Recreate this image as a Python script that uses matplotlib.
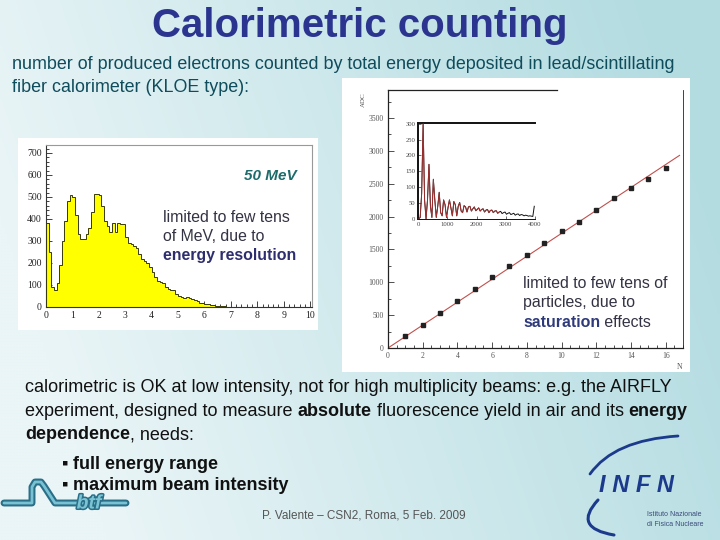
import numpy as np
import matplotlib
matplotlib.use('Agg')
import matplotlib.pyplot as plt
import matplotlib.patheffects as pe
from matplotlib.patches import Rectangle, PathPatch
from matplotlib.path import Path
from matplotlib.lines import Line2D
from matplotlib.ticker import MultipleLocator

# ---------------- data ----------------
hist_counts = [380, 250, 90, 75, 110, 190, 300, 390, 480, 510,
               500, 420, 330, 310, 310, 330, 360, 430, 515, 515,
               510, 460, 390, 370, 340, 380, 340, 380, 375, 375,
               320, 290, 285, 275, 270, 240, 220, 210, 200, 180,
               160, 135, 120, 115, 110, 90, 80, 75, 75, 60,
               50, 45, 40, 45, 40, 35, 30, 25, 20, 20,
               15, 12, 10, 8, 6, 5, 4, 3, 2, 2,
               2, 1, 1, 1, 1, 0, 1, 0, 0, 1,
               0, 0, 0, 0, 0, 0, 0, 0, 0, 0,
               0, 0, 0, 0, 0, 0, 0, 0, 0, 0]
hist_lo, hist_hi = 0.0, 10.0

n_particles = [1, 2, 3, 4, 5, 6, 7, 8, 9, 10, 11, 12, 13, 14, 15, 16]
adc_mean = [177, 355, 533, 720, 898, 1080, 1243, 1420, 1598, 1775,
            1917, 2105, 2283, 2435, 2572, 2740]

inset_counts = [0, 5, 80, 300, 60, 0, 60, 172, 40, 5,
                125, 60, 5, 40, 84, 20, 10, 60, 45, 5,
                35, 60, 35, 10, 55, 45, 10, 40, 52, 25,
                20, 42, 38, 22, 38, 40, 25, 32, 38, 26,
                30, 35, 25, 30, 32, 22, 28, 30, 20, 27,
                28, 20, 25, 26, 18, 22, 24, 17, 20, 22,
                15, 18, 20, 14, 16, 18, 12, 15, 16, 11,
                14, 13, 10, 12, 11, 9, 10, 9, 8, 40]
inset_lo, inset_hi = 0.0, 4000.0

hist_xticks = list(range(0, 11))
hist_yticks = [0, 100, 200, 300, 400, 500, 600, 700]
main_xticks = [0, 2, 4, 6, 8, 10, 12, 14, 16]
main_yticks = [0, 500, 1000, 1500, 2000, 2500, 3000, 3500]
inset_xticks = [0, 1000, 2000, 3000, 4000]
inset_yticks = [0, 50, 100, 150, 200, 250, 300]

# ---------------- figure ----------------
W, H = 720, 540
fig = plt.figure(figsize=(7.2, 5.4), dpi=100)
SANS_N = ['Liberation Sans', 'DejaVu Sans']
SANS = ['Liberation Sans', 'DejaVu Sans']
SERIF = ['Liberation Serif', 'DejaVu Serif']


def P(x, y):
    return (x / W, 1 - y / H)


# background gradient
bg = fig.add_axes([0, 0, 1, 1], zorder=-10)
bg.axis('off')
xx, yy = np.meshgrid(np.linspace(0, 1, 240), np.linspace(0, 1, 180))
t = np.clip(xx - 0.25 * yy + 0.1, 0, 1)
c0 = np.array([234, 245, 247]) / 255
c1 = np.array([179, 220, 225]) / 255
img = c0[None, None, :] * (1 - t[..., None]) + c1[None, None, :] * t[..., None]
bg.imshow(img, extent=[0, 1, 0, 1], aspect='auto', origin='upper')
bg.set_xlim(0, 1)
bg.set_ylim(0, 1)

# white panels
for (x0, y0, x1, y1) in [(18, 138, 318, 330), (342, 78, 690, 372)]:
    fig.add_artist(Rectangle(P(x0, y1), (x1 - x0) / W, (y1 - y0) / H,
                             transform=fig.transFigure, fc='white', ec='none', zorder=-5))

renderer = fig.canvas.get_renderer()


def twidth(s, size, weight, family, style='normal'):
    a = fig.text(0, 0, 'x' + s + 'x', fontsize=size, fontweight=weight, family=family, fontstyle=style)
    b = fig.text(0, 0, 'xx', fontsize=size, fontweight=weight, family=family, fontstyle=style)
    w = a.get_window_extent(renderer).width - b.get_window_extent(renderer).width
    a.remove()
    b.remove()
    return w


def rich(x, y, parts, size=None, target=None, family=SANS_N, zorder=5):
    if target is not None:
        tot = sum(twidth(s, 10, w, family) for s, w, c in parts)
        size = 10 * target / tot
    cx = x
    for s, w, c in parts:
        fig.text(cx / W, 1 - y / H, s, fontsize=size, fontweight=w, color=c,
                 family=family, va='baseline', ha='left', zorder=zorder)
        cx += twidth(s, size, w, family)
    return size


# ---- title & texts ----
TITLE_C = '#2b3590'
SUB_C = '#0f4c5c'
fig.text(360 / W, 1 - 37 / H, 'Calorimetric counting', fontsize=29, fontweight='bold',
         color=TITLE_C, family=SANS_N, ha='center', va='baseline')
s1 = rich(12, 69, [('number of produced electrons counted by total energy deposited in lead/scintillating', 'normal', SUB_C)], target=664)
rich(12, 92, [('fiber calorimeter (KLOE type):', 'normal', SUB_C)], size=s1)

K = '#111111'
s2 = rich(25, 392, [('calorimetric is OK at low intensity, not for high multiplicity beams: e.g. the AIRFLY', 'normal', K)], target=648)
rich(25, 416, [('experiment, designed to measure ', 'normal', K), ('absolute', 'bold', K),
               (' fluorescence yield in air and its ', 'normal', K), ('energy', 'bold', K)], size=s2)
rich(25, 439, [('dependence', 'bold', K), (', needs:', 'normal', K)], size=s2)
rich(62, 469, [('\u25aa', 'bold', K), (' full energy range', 'bold', K)], size=s2)
rich(62, 490, [('\u25aa', 'bold', K), (' maximum beam intensity', 'bold', K)], size=s2)
fig.text(364 / W, 1 - 519 / H, 'P. Valente \u2013 CSN2, Roma, 5 Feb. 2009', fontsize=8.5,
         color='#555555', family=SANS, ha='center', va='baseline')

# ---------------- left histogram ----------------
axh = fig.add_axes([46 / W, 1 - 307 / H, (312 - 46) / W, (307 - 145) / H])
axh.set_facecolor('none')
edges = np.linspace(hist_lo, hist_hi, len(hist_counts) + 1)
axh.stairs(hist_counts, edges, fill=True, color='#ffff00', zorder=2)
axh.stairs(hist_counts, edges, color='#3a3a10', lw=0.7, zorder=3)
axh.set_xlim(0, 10.07)
axh.set_ylim(0, 736)
axh.set_xticks(hist_xticks)
axh.set_yticks(hist_yticks)
axh.xaxis.set_minor_locator(MultipleLocator(0.2))
axh.yaxis.set_minor_locator(MultipleLocator(20))
axh.tick_params(which='both', direction='in', colors='#222222', labelsize=7, width=0.6)
axh.tick_params(which='major', length=4, pad=3)
axh.tick_params(which='minor', length=2)
for lab in axh.get_xticklabels() + axh.get_yticklabels():
    lab.set_family(SERIF)
for sp in axh.spines.values():
    sp.set_linewidth(0.8)
    sp.set_color('#333333')
axh.spines['top'].set_color('#999999')
axh.spines['right'].set_color('#999999')

fig.text(297 / W, 1 - 180 / H, '50 MeV', fontsize=11, fontweight='bold', fontstyle='italic',
         color='#1d6b6b', family=SANS, ha='right', va='baseline')
PT = '#333344'
BT = '#2e2e6e'
s3 = rich(163, 222, [('limited to few tens', 'normal', PT)], target=128, family=SANS)
rich(163, 241, [('of MeV, due to', 'normal', PT)], size=s3, family=SANS)
rich(163, 260, [('energy resolution', 'bold', BT)], size=s3, family=SANS)

# ---------------- right main plot ----------------
axm = fig.add_axes([388 / W, 1 - 348 / H, (683 - 388) / W, (348 - 90) / H])
axm.set_facecolor('none')
nx = np.array(n_particles, dtype=float)
ny = np.array(adc_mean, dtype=float)
slope = np.sum(nx * ny) / np.sum(nx * nx)
xl = np.array([0.0, 16.8])
axm.plot(xl, slope * xl, color='#c0504d', lw=0.8, zorder=2)
axm.plot(nx, ny, 's', color='#222222', ms=2.8, zorder=3)
axm.set_xlim(0, 17.0)
axm.set_ylim(0, 3927)
axm.set_xticks(main_xticks)
axm.set_yticks(main_yticks)
axm.xaxis.set_minor_locator(MultipleLocator(0.5))
axm.yaxis.set_minor_locator(MultipleLocator(250))
axm.tick_params(which='both', direction='in', colors='#333333', labelsize=5.5, width=0.6)
axm.tick_params(which='major', length=4, pad=3)
axm.tick_params(which='minor', length=2)
for lab in axm.get_xticklabels() + axm.get_yticklabels():
    lab.set_family(SERIF)
    lab.set_color('#555555')
for sp in axm.spines.values():
    sp.set_linewidth(0.9)
    sp.set_color('#222222')
axm.spines['right'].set_linewidth(0.6)
axm.spines['top'].set_bounds(0, 9.75)
fig.text(363 / W, 1 - 100 / H, 'ADC', fontsize=5, rotation=90, color='#555555',
         family=SERIF, ha='center', va='center')
fig.text(680 / W, 1 - 367 / H, 'N', fontsize=5.5, color='#555555', family=SERIF,
         ha='center', va='center')

s4 = rich(523, 288, [('limited to few tens of', 'normal', PT)], target=145, family=SANS)
rich(523, 307, [('particles, due to', 'normal', PT)], size=s4, family=SANS)
rich(523, 327, [('saturation', 'bold', '#2e3a7a'), (' effects', 'normal', PT)], size=s4, family=SANS)

# ---------------- inset ----------------
axi = fig.add_axes([418 / W, 1 - 219 / H, (535 - 418) / W, (219 - 123) / H])
axi.set_facecolor('white')
iedges = np.linspace(inset_lo, inset_hi, len(inset_counts) + 1)
icent = 0.5 * (iedges[:-1] + iedges[1:])
ic = np.array(inset_counts, dtype=float)
axi.plot(icent, ic, color='#111111', lw=0.7, zorder=2)
mask = icent < 2800
axi.plot(icent[mask], ic[mask], color='#b03030', lw=0.6, zorder=3)
axi.set_xlim(0, 4000)
axi.set_ylim(0, 302)
axi.set_xticks(inset_xticks)
axi.set_yticks(inset_yticks)
axi.tick_params(which='both', direction='in', colors='#333333', labelsize=4.8, width=0.5, length=2, pad=2)
for lab in axi.get_xticklabels() + axi.get_yticklabels():
    lab.set_family(SERIF)
    lab.set_color('#444444')
axi.spines['right'].set_visible(False)
axi.spines['top'].set_linewidth(1.4)
axi.spines['left'].set_linewidth(1.4)
axi.spines['bottom'].set_linewidth(0.7)
for sp in axi.spines.values():
    sp.set_color('#111111')


# ---------------- logos ----------------
def fig_path(pts, codes, **kw):
    verts = [P(x, y) for x, y in pts]
    fig.add_artist(PathPatch(Path(verts, codes), transform=fig.transFigure, fc='none', **kw))


# INFN
Q = [Path.MOVETO, Path.CURVE3, Path.CURVE3]
fig_path([(590, 474), (614, 440), (678, 436)], Q, ec='#1c3a8c', lw=2.0, capstyle='round')
fig_path([(598, 500), (572, 528), (614, 535)], Q, ec='#1c3a8c', lw=2.2, capstyle='round')
fig.text(636 / W, 1 - 486 / H, 'I N F N', fontsize=17, fontweight='bold', fontstyle='italic',
         color='#1c3a8c', family=SANS, ha='center', va='center')
fig.text(647 / W, 1 - 515 / H, 'Istituto Nazionale', fontsize=5, color='#3a4a7a',
         family=SANS, ha='left', va='center')
fig.text(647 / W, 1 - 525 / H, 'di Fisica Nucleare', fontsize=5, color='#3a4a7a',
         family=SANS, ha='left', va='center')

# btf
btf_pts = [(4, 503), (32, 503), (32, 487), (35, 482), (41, 482), (44, 486), (55, 503), (126, 503)]
xs = [P(x, y)[0] for x, y in btf_pts]
ys = [P(x, y)[1] for x, y in btf_pts]
fig.add_artist(Line2D(xs, ys, transform=fig.transFigure, color='#2a6f88', lw=5.0,
                      solid_joinstyle='round', solid_capstyle='round'))
fig.add_artist(Line2D(xs, ys, transform=fig.transFigure, color='#78c2d4', lw=2.0,
                      solid_joinstyle='round', solid_capstyle='round'))
fig.text(89 / W, 1 - 504 / H, 'btf', fontsize=14, fontweight='bold', fontstyle='italic',
         color='#7cc3d3', family=SANS, ha='center', va='center', zorder=6,
         path_effects=[pe.withStroke(linewidth=2.2, foreground='#2a6f88')])

fig.savefig('out.png', dpi=100)
